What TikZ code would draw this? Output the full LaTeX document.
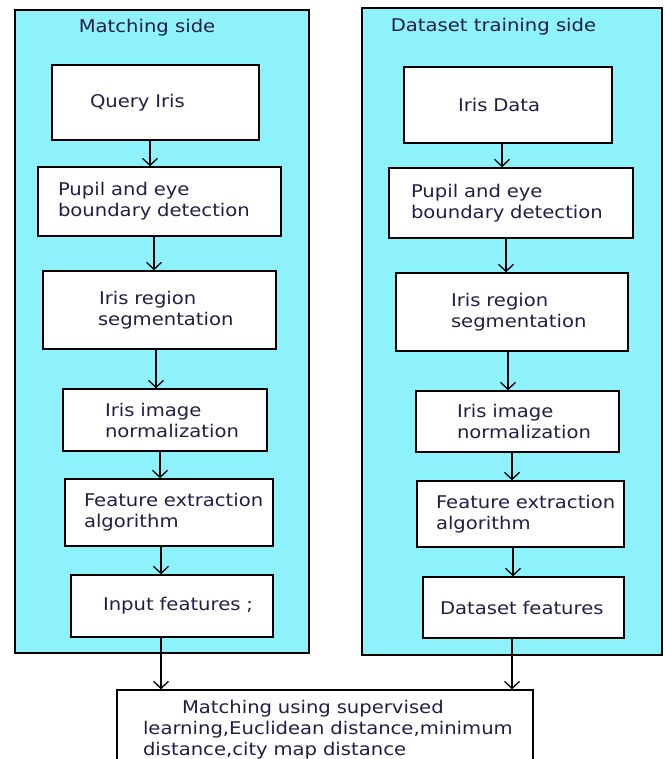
\documentclass[tikz,border=0pt]{standalone}
\usepackage{fontspec}
\setmainfont{DejaVu Sans}[FakeStretch=1.12]
\usetikzlibrary{arrows.meta}

\definecolor{panelcyan}{RGB}{142,242,252}
\definecolor{inkblue}{RGB}{35,30,70}

\newcommand{\lineindent}[1]{\hspace*{#1pt}}

\begin{document}
\begin{tikzpicture}[x=1pt, y=-1pt,
	font=\fontsize{17.5}{21}\selectfont, text=inkblue,
	panel/.style={draw, fill=panelcyan, line width=1.5pt, rectangle, inner sep=0pt},
	box/.style={draw, fill=white, line width=1.5pt, rectangle, align=left, inner xsep=0pt, inner ysep=0pt},
	arr/.style={line width=1.3pt, -{Straight Barb[length=7pt, width=15pt]}}]

	\useasboundingbox (0,0) rectangle (665,759);

% Draw panels.

	\node[panel, minimum width=294pt, minimum height=643pt] (leftPanel) at (162, 331.5) {};
	\node[panel, minimum width=300pt, minimum height=647pt] (rightPanel) at (512, 331.5) {};

	\node (leftTitle) at (147, 28) {Matching side};
	\node (rightTitle) at (493.5, 27) {Dataset training side};

% Matching side boxes.

	\node[box, text width=207pt, minimum height=75pt] (query) at (155.5, 102.5) {\lineindent{38}Query Iris};
	\node[box, text width=243pt, minimum height=69pt] (pupilL) at (159.5, 201.5) {\lineindent{20}Pupil and eye\\\lineindent{20}boundary detection};
	\node[box, text width=233pt, minimum height=78pt] (regionL) at (159.5, 310) {\lineindent{56}Iris region\\\lineindent{55}segmentation};
	\node[box, text width=204pt, minimum height=62pt] (normL) at (165, 420) {\lineindent{42}Iris image\\\lineindent{42}normalization};
	\node[box, text width=208pt, minimum height=67pt] (featL) at (169, 512.5) {\lineindent{19}Feature extraction\\\lineindent{19}algorithm};
	\node[box, text width=202pt, minimum height=62pt] (input) at (172, 606) {\lineindent{32}Input features ;};

% Dataset training side boxes.

	\node[box, text width=208pt, minimum height=76pt] (irisData) at (508, 105) {\lineindent{54}Iris Data};
	\node[box, text width=244pt, minimum height=70pt] (pupilR) at (511, 203) {\lineindent{22}Pupil and eye\\\lineindent{22}boundary detection};
	\node[box, text width=232pt, minimum height=78pt] (regionR) at (512, 312) {\lineindent{55}Iris region\\\lineindent{55}segmentation};
	\node[box, text width=203pt, minimum height=61pt] (normR) at (517.5, 421.5) {\lineindent{41}Iris image\\\lineindent{41}normalization};
	\node[box, text width=207pt, minimum height=66pt] (featR) at (520.5, 514) {\lineindent{19}Feature extraction\\\lineindent{19}algorithm};
	\node[box, text width=201pt, minimum height=61pt] (dataset) at (523.5, 607.5) {\lineindent{17}Dataset features};

% Matching box.

	\node[box, text width=416pt, minimum height=80pt] (match) at (325, 730)
		{\lineindent{65}Matching using supervised\\\lineindent{26}learning,Euclidean distance,minimum\\\lineindent{26}distance,city map distance};

% Draw arrows.

	\draw[arr] (query.south -| 150,0) -- (pupilL.north -| 150,0);
	\draw[arr] (pupilL.south -| 154,0) -- (regionL.north -| 154,0);
	\draw[arr] (regionL.south -| 156,0) -- (normL.north -| 156,0);
	\draw[arr] (normL.south -| 160,0) -- (featL.north -| 160,0);
	\draw[arr] (featL.south -| 161,0) -- (input.north -| 161,0);
	\draw[arr] (input.south -| 161,0) -- (match.north -| 161,0);

	\draw[arr] (irisData.south -| 502,0) -- (pupilR.north -| 502,0);
	\draw[arr] (pupilR.south -| 506,0) -- (regionR.north -| 506,0);
	\draw[arr] (regionR.south -| 508,0) -- (normR.north -| 508,0);
	\draw[arr] (normR.south -| 512,0) -- (featR.north -| 512,0);
	\draw[arr] (featR.south -| 513,0) -- (dataset.north -| 513,0);
	\draw[arr] (dataset.south -| 512,0) -- (match.north -| 512,0);

\end{tikzpicture}
\end{document}
